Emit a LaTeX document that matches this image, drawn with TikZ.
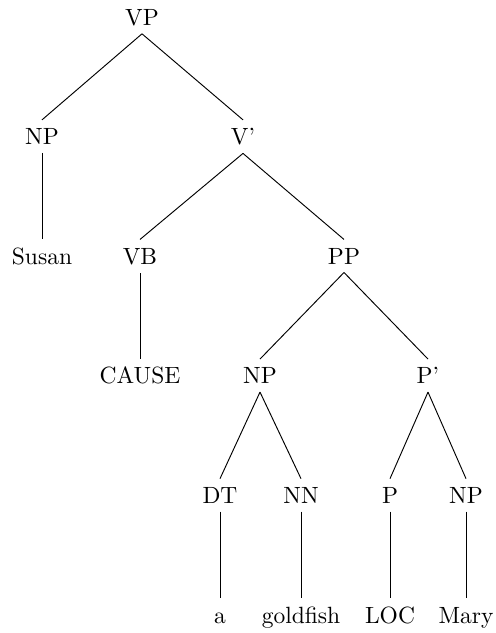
\documentclass[tikz,border=0pt]{standalone}
\begin{document}
\begin{tikzpicture}[x=0.4255pt,y=-0.4255pt,
  tn/.style={anchor=base,inner sep=3.33pt,text height=7pt},
  edge/.style={line width=0.4pt}]
\useasboundingbox (0,0) rectangle (496,633);
% level baselines
\def\la{25}\def\lb{144.6}\def\lc{264.2}\def\ld{383.8}\def\le{503.4}\def\lf{623}
\node[tn] (vp)    at (142,\la) {VP};
\node[tn] (np1)   at (42,\lb)  {NP};
\node[tn] (vbar)  at (243,\lb) {V'};
\node[tn] (susan) at (42,\lc)  {Susan};
\node[tn] (vb)    at (140,\lc) {VB};
\node[tn] (pp)    at (344,\lc) {PP};
\node[tn] (cause) at (140,\ld) {CAUSE};
\node[tn] (np2)   at (260,\ld) {NP};
\node[tn] (pbar)  at (428,\ld) {P'};
\node[tn] (dt)    at (220,\le) {DT};
\node[tn] (nn)    at (301,\le) {NN};
\node[tn] (p)     at (390,\le) {P};
\node[tn] (np3)   at (466,\le) {NP};
\node[tn] (a)     at (220,\lf) {a};
\node[tn] (gf)    at (301,\lf) {goldfish};
\node[tn] (loc)   at (390,\lf) {LOC};
\node[tn] (mary)  at (466,\lf) {Mary};
\foreach \u/\v in {vp/np1,vp/vbar,np1/susan,vbar/vb,vbar/pp,vb/cause,pp/np2,pp/pbar,
  np2/dt,np2/nn,pbar/p,pbar/np3,dt/a,nn/gf,p/loc,np3/mary}
  \draw[edge] (\u.south) -- (\v.north);
\end{tikzpicture}
\end{document}
